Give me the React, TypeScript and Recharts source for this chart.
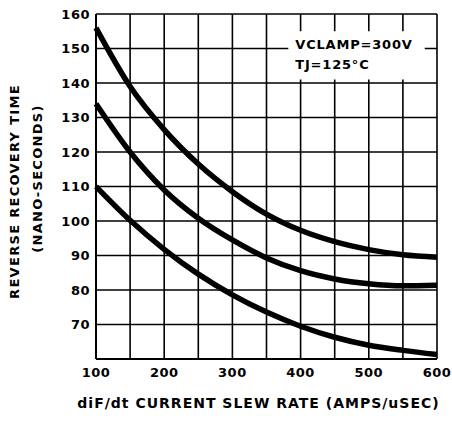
import React from 'react';
import { ComposedChart, Line, XAxis, YAxis, CartesianGrid, ReferenceArea, Label } from 'recharts';

const slewRate = [100, 150, 200, 250, 300, 350, 400, 450, 500, 550, 600];
const curveTop = [156, 139, 126.5, 116.5, 108.5, 102, 97.3, 94, 91.7, 90.2, 89.5];
const curveMid = [134, 120, 109, 100.8, 94.5, 89.3, 85.6, 83.2, 81.8, 81.2, 81.4];
const curveLow = [110, 100.2, 91.8, 84.6, 78.6, 73.6, 69.5, 66.3, 64, 62.5, 61.3];

const xTicks = [100, 150, 200, 250, 300, 350, 400, 450, 500, 550, 600];
const xLabelled = [100, 200, 300, 400, 500, 600];
const yTicks = [60, 70, 80, 90, 100, 110, 120, 130, 140, 150, 160];
const yLabelled = [70, 80, 90, 100, 110, 120, 130, 140, 150, 160];

const xTitle = 'diF/dt CURRENT SLEW RATE (AMPS/uSEC)';
const yTitle1 = 'REVERSE RECOVERY TIME';
const yTitle2 = '(NANO-SECONDS)';
const note1 = 'VCLAMP=300V';
const note2 = 'TJ=125°C';

const data = slewRate.map((x, i) => ({ x, top: curveTop[i], mid: curveMid[i], low: curveLow[i] }));

const FONT = '"DejaVu Sans", sans-serif';

const NoteLabel = (props: any) => {
  const vb = props.viewBox || { x: 0, y: 0 };
  return (
    <g fontFamily={FONT} fontWeight="bold" fontSize={13} fill="#000">
      <text x={vb.x + 7} y={vb.y + 18} letterSpacing={0.8}>{note1}</text>
      <text x={vb.x + 7} y={vb.y + 38} letterSpacing={0.8}>{note2}</text>
    </g>
  );
};

const YTitle = (props: any) => {
  const vb = props.viewBox || { x: 0, y: 0, height: 0 };
  const cy = vb.y + vb.height / 2;
  return (
    <g fontFamily={FONT} fontWeight="bold" fontSize={13} fill="#000">
      <text x={14} y={cy + 5} transform={`rotate(-90 14 ${cy + 5})`} textAnchor="middle" dominantBaseline="central" letterSpacing={1.3}>{yTitle1}</text>
      <text x={37} y={cy - 8} transform={`rotate(-90 37 ${cy - 8})`} textAnchor="middle" dominantBaseline="central" letterSpacing={1.3}>{yTitle2}</text>
    </g>
  );
};

const XTitle = (props: any) => {
  const vb = props.viewBox || { x: 0, y: 0, width: 0 };
  const cx = vb.x + vb.width / 2 - 8;
  return (
    <text x={cx} y={vb.y + 44} textAnchor="middle" dominantBaseline="central" fontFamily={FONT} fontWeight="bold" fontSize={14} fill="#000" letterSpacing={1}>{xTitle}</text>
  );
};

export default function App() {
  return (
    <div style={{ position: 'absolute', left: 0, top: 0, background: '#fff', width: 452, height: 421 }}>
      <ComposedChart width={452} height={421} data={data} margin={{ top: 14, right: 15, bottom: 0, left: 0 }}>
        <CartesianGrid stroke="#000" strokeWidth={1.6} horizontalValues={yTicks} verticalValues={xTicks} />
        <XAxis
          dataKey="x"
          type="number"
          domain={[100, 600]}
          ticks={xTicks}
          interval={0}
          tickFormatter={(v: number) => (xLabelled.includes(v) ? String(v) : '')}
          tickLine={false}
          tickSize={0}
          tickMargin={9}
          axisLine={{ stroke: '#000', strokeWidth: 2 }}
          height={62}
          tick={{ fill: '#000', fontFamily: FONT, fontWeight: 'bold', fontSize: 13, letterSpacing: 0.5 }}
        >
          <Label content={<XTitle />} />
        </XAxis>
        <YAxis
          type="number"
          domain={[60, 160]}
          ticks={yTicks}
          interval={0}
          tickFormatter={(v: number) => (yLabelled.includes(v) ? String(v) : '')}
          tickLine={false}
          tickSize={0}
          tickMargin={6}
          axisLine={{ stroke: '#000', strokeWidth: 2 }}
          width={96}
          tick={{ fill: '#000', fontFamily: FONT, fontWeight: 'bold', fontSize: 13, letterSpacing: 0.5 }}
        >
          <Label content={<YTitle />} />
        </YAxis>
        <ReferenceArea x1={382} x2={582} y1={141} y2={155} fill="#fff" fillOpacity={1} stroke="none" label={<NoteLabel />} />
        <Line type="monotone" dataKey="top" stroke="#000" strokeWidth={5.5} dot={false} isAnimationActive={false} />
        <Line type="monotone" dataKey="mid" stroke="#000" strokeWidth={5.5} dot={false} isAnimationActive={false} />
        <Line type="monotone" dataKey="low" stroke="#000" strokeWidth={5.5} dot={false} isAnimationActive={false} />
      </ComposedChart>
    </div>
  );
}
